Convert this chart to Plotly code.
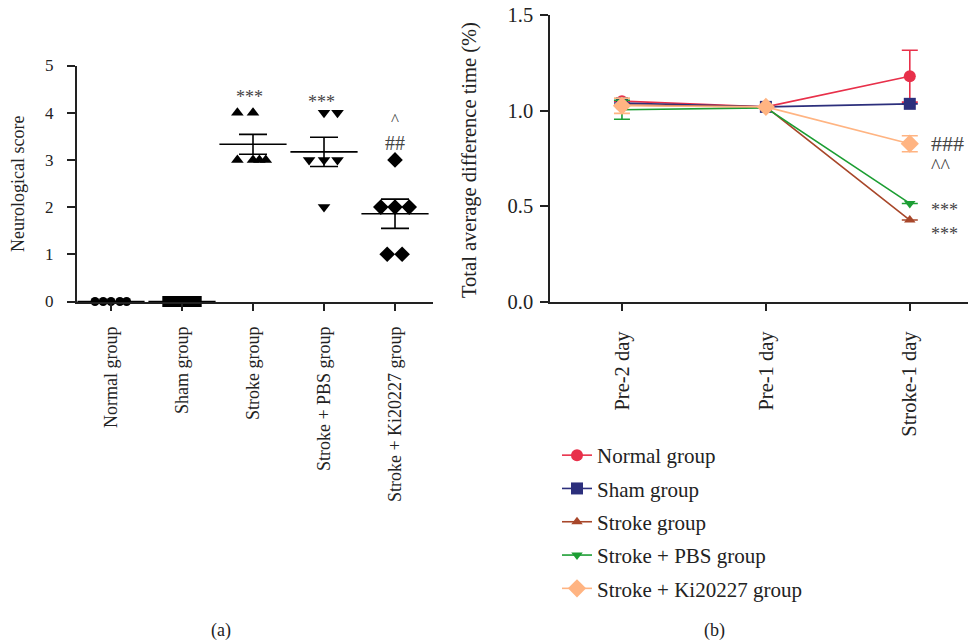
import plotly.graph_objects as go

# ---------------- data: panel (a) ----------------
groups_a = ["Normal group", "Sham group", "Stroke group", "Stroke + PBS group", "Stroke + Ki20227 group"]
normal_scores = [0, 0, 0, 0, 0]
sham_scores = [0, 0, 0, 0, 0, 0]
stroke_scores = [4, 4, 3, 3, 3, 3]
pbs_scores = [4, 4, 3, 3, 3, 2]
ki_scores = [3, 2, 2, 2, 1, 1]
mean_scores = [0, 0, 3.33, 3.17, 1.86]
sem_scores = [0, 0, 0.21, 0.31, 0.31]

# horizontal scatter (jitter) of the individual points, in category units
normal_jit = [-0.225, -0.11, 0.0, 0.125, 0.22]
sham_jit = [-0.2, -0.12, -0.04, 0.04, 0.12, 0.2]
stroke_jit = [-0.22, 0.0, -0.22, 0.0, 0.09, 0.18]
pbs_jit = [0.0, 0.19, -0.21, 0.0, 0.19, 0.0]
ki_jit = [0.0, -0.2, 0.0, 0.2, -0.11, 0.1]

# ---------------- data: panel (b) ----------------
days = ["Pre-2 day", "Pre-1 day", "Stroke-1 day"]
series_names = ["Normal group", "Sham group", "Stroke group", "Stroke + PBS group", "Stroke + Ki20227 group"]
normal_b = [1.05, 1.02, 1.181]
sham_b = [1.04, 1.02, 1.036]
stroke_b = [1.03, 1.02, 0.427]
pbs_b = [1.005, 1.015, 0.514]
ki_b = [1.026, 1.02, 0.827]
normal_sem = [None, None, 0.136]
sham_sem = [None, None, None]
stroke_sem = [None, None, None]
pbs_sem = [0.05, None, None]
ki_sem = [0.04, None, 0.042]

FONT = "Liberation Serif"
AX = "#222222"
W, H = 968, 636  # page body has an 8 px margin


def fx(px):
    return (px - 8) / W


def fy(py):
    return 1 - (py - 8) / H


fig = go.Figure()

# ---- panel (a) points ----
pts = [
    (normal_scores, normal_jit, "circle", 9),
    (sham_scores, sham_jit, "square", 11),
    (stroke_scores, stroke_jit, "triangle-up", 11),
    (pbs_scores, pbs_jit, "triangle-down", 11),
    (ki_scores, ki_jit, "diamond", 12),
]
for i, (vals, jit, sym, sz) in enumerate(pts):
    fig.add_trace(go.Scatter(
        x=[i + j for j in jit], y=vals, mode="markers",
        marker=dict(symbol=sym, size=sz, color="black", line=dict(width=0)),
        xaxis="x", yaxis="y", showlegend=False, cliponaxis=False, hoverinfo="skip"))

# mean +/- SEM
fig.add_trace(go.Scatter(
    x=list(range(len(groups_a))), y=mean_scores, mode="markers",
    marker=dict(symbol="line-ew", size=48, line=dict(width=1.6, color="black")),
    error_y=dict(type="data", array=sem_scores, width=14, thickness=1.6, color="black"),
    xaxis="x", yaxis="y", showlegend=False, cliponaxis=False, hoverinfo="skip"))

# ---- panel (b) lines ----
colors = ["#E8304A", "#2C2F7C", "#A8472A", "#1C9E33", "#FFB482"]
symbols = ["circle", "square", "triangle-up", "triangle-down", "diamond"]
sizes = [12, 12, 10, 10, 14]
vals_b = [normal_b, sham_b, stroke_b, pbs_b, ki_b]
sems_b = [normal_sem, sham_sem, stroke_sem, pbs_sem, ki_sem]
for k in range(5):
    fig.add_trace(go.Scatter(
        x=days, y=vals_b[k], mode="lines+markers", name=series_names[k],
        line=dict(color=colors[k], width=1.6),
        marker=dict(symbol=symbols[k], size=sizes[k], color=colors[k]),
        error_y=dict(type="data", array=sems_b[k], width=8, thickness=1.6, color=colors[k]),
        xaxis="x2", yaxis="y2", legendgroup=series_names[k], cliponaxis=False))

axis_common = dict(showline=True, linecolor=AX, linewidth=1.5, ticks="outside", ticklen=8,
                   tickwidth=1.5, tickcolor=AX, showgrid=False, zeroline=False,
                   automargin=False, ticklabeloverflow="allow")

fig.update_layout(
    width=W, height=H,
    margin=dict(l=0, r=0, t=0, b=0),
    paper_bgcolor="white", plot_bgcolor="white",
    font=dict(family=FONT, color=AX),
    xaxis=dict(domain=[fx(76.7), fx(433)], range=[-0.483, 4.535], tickmode="array",
               tickvals=list(range(len(groups_a))), ticktext=groups_a, tickangle=-90,
               tickfont=dict(size=18, family=FONT, color=AX), ticklabelstandoff=8,
               anchor="y", **axis_common),
    yaxis=dict(domain=[fy(301.5), fy(65.5)], range=[0, 5], dtick=1,
               tickfont=dict(size=17, family=FONT, color=AX), ticklabelstandoff=10,
               anchor="x", **axis_common),
    xaxis2=dict(domain=[fx(550), 1.0], range=[-0.5, 2.46], type="category",
                tickangle=-90, tickfont=dict(size=20.5, family=FONT, color=AX),
                ticklabelstandoff=12, anchor="y2", **axis_common),
    yaxis2=dict(domain=[fy(301.5), fy(15.3)], range=[0, 1.5], tickvals=[0, 0.5, 1.0, 1.5],
                tickformat=".1f", tickfont=dict(size=20.5, family=FONT, color=AX),
                ticklabelstandoff=3, anchor="x2", **axis_common),
    legend=dict(x=fx(557), y=fy(435), xanchor="left", yanchor="top",
                font=dict(size=21, family=FONT, color=AX),
                traceorder="grouped", tracegroupgap=3, bgcolor="rgba(0,0,0,0)",
                itemsizing="trace"),
)

annos = [
    # axis titles
    ("Neurological score", fx(18), fy(184), -90, 18),
    ("Total average difference time (%)", fx(470), fy(160), -90, 20.5),
    # panel labels
    ("(a)", fx(221), fy(630), 0, 18),
    ("(b)", fx(714), fy(630), 0, 18),
]
for text, xx, yy, ang, fs in annos:
    fig.add_annotation(xref="paper", yref="paper", showarrow=False, xanchor="center",
                       yanchor="middle", font=dict(family=FONT, color=AX, size=fs),
                       text=text, x=xx, y=yy, textangle=ang)

# significance marks, panel (a)
sig_a = [("***", 1.95, 4.34, 18), ("***", 2.97, 4.22, 18), ("^", 4.0, 3.85, 17), ("##", 4.0, 3.36, 20)]
for t, xx, yy, fs in sig_a:
    fig.add_annotation(xref="x", yref="y", x=xx, y=yy, text=t, showarrow=False,
                       font=dict(family=FONT, size=fs, color="#444444"))

# significance marks, panel (b)
sig_b = [("###", 2.26, 0.827, 22), ("^^", 2.21, 0.71, 20), ("***", 2.24, 0.48, 18), ("***", 2.24, 0.353, 18)]
for t, xx, yy, fs in sig_b:
    fig.add_annotation(xref="x2", yref="y2", x=xx, y=yy, text=t, showarrow=False,
                       font=dict(family=FONT, size=fs, color="#444444"))

fig.write_html("out.html")
